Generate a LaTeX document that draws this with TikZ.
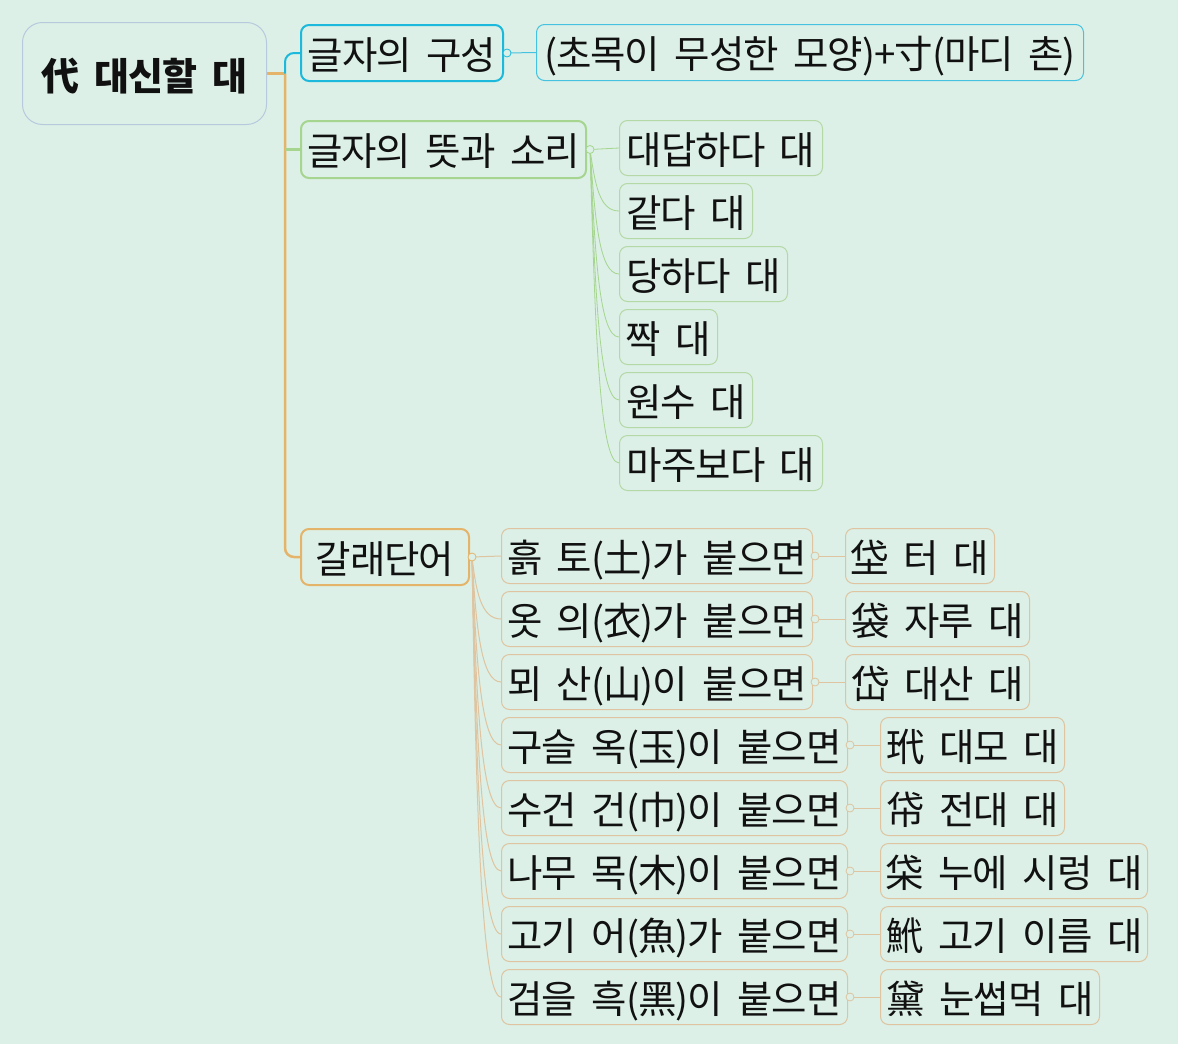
\documentclass[tikz,border=0pt]{standalone}
\usepackage{fontspec}
\setmainfont{Noto Sans CJK KR}[WordSpace=1.9,LetterSpace=-2.6]
\usetikzlibrary{calc,backgrounds}
\definecolor{bgc}{HTML}{DCF0E7}
\definecolor{txt}{HTML}{111111}
\definecolor{rootc}{HTML}{B7C9DC}
\definecolor{cyanT}{HTML}{1DB9DC}
\definecolor{cyanL}{HTML}{45C2E0}
\definecolor{greenT}{HTML}{A5D58E}
\definecolor{greenL}{HTML}{B4D8A6}
\definecolor{orangeT}{HTML}{E4B46A}
\definecolor{tanL}{HTML}{DEC4A0}
\begin{document}
\begin{tikzpicture}[x=1pt,y=1pt,
  box/.style={draw, rounded corners=8pt, inner sep=0pt, align=center, text=txt,
    font=\fontsize{38.5pt}{44pt}\selectfont, text height=34pt, text depth=2pt,
    anchor=north west, fill=bgc},
  wh/.style 2 args={minimum width=#1pt, minimum height=#2pt},
  thickbox/.style={box, line width=2pt, draw=#1},
  thinbox/.style={box, line width=1pt, draw=#1},
  dot/.style={circle, inner sep=0pt, minimum size=8pt, fill=bgc, line width=0.8pt, draw=#1},
  gline/.style={draw=greenT, line width=0.8pt},
  tline/.style={draw=tanL, line width=1pt}]
\begin{pgfonlayer}{background}
\fill[bgc] (0,0) rectangle (1178,-1044);
\end{pgfonlayer}
\useasboundingbox (0,0) rectangle (1178,-1044);

% root
\node[box, draw=rootc, line width=1pt, rounded corners=20pt, wh={244}{102},
  font=\fontsize{38pt}{44pt}\selectfont\bfseries, text height=36pt, text depth=2pt] (root) at (22,-22) {代 대신할 대};

% level 1
\node[thickbox=cyanT, wh={202}{56}] (g1) at (300,-24) {글자의 구성};
\node[thinbox=cyanL, wh={547}{56}] (g1a) at (536,-24) {(초목이 무성한 모양)+寸(마디 촌)};
\node[thickbox=greenT, wh={285}{57}] (g2) at (300,-120) {글자의 뜻과 소리};
\node[thickbox=orangeT, wh={168}{56}] (g3) at (300,-528) {갈래단어};

% meanings
\node[thinbox=greenL, wh={203}{55}] (m1) at (619,-120) {대답하다 대};
\node[thinbox=greenL, wh={133}{55}] (m2) at (619,-183) {같다 대};
\node[thinbox=greenL, wh={168}{55}] (m3) at (619,-246) {당하다 대};
\node[thinbox=greenL, wh={98}{55}]  (m4) at (619,-309) {짝 대};
\node[thinbox=greenL, wh={133}{55}] (m5) at (619,-372) {원수 대};
\node[thinbox=greenL, wh={203}{55}] (m6) at (619,-435) {마주보다 대};

% derived words
\node[thinbox=tanL, wh={311}{55}] (c1) at (501,-528) {흙 토(土)가 붙으면};
\node[thinbox=tanL, wh={311}{55}] (c2) at (501,-591) {옷 의(衣)가 붙으면};
\node[thinbox=tanL, wh={311}{55}] (c3) at (501,-654) {뫼 산(山)이 붙으면};
\node[thinbox=tanL, wh={346}{55}] (c4) at (501,-717) {구슬 옥(玉)이 붙으면};
\node[thinbox=tanL, wh={346}{55}] (c5) at (501,-780) {수건 건(巾)이 붙으면};
\node[thinbox=tanL, wh={346}{55}] (c6) at (501,-843) {나무 목(木)이 붙으면};
\node[thinbox=tanL, wh={346}{55}] (c7) at (501,-906) {고기 어(魚)가 붙으면};
\node[thinbox=tanL, wh={346}{55}] (c8) at (501,-969) {검을 흑(黑)이 붙으면};

\node[thinbox=tanL, wh={149}{55}] (d1) at (845,-528) {垈 터 대};
\node[thinbox=tanL, wh={184}{55}] (d2) at (845,-591) {袋 자루 대};
\node[thinbox=tanL, wh={184}{55}] (d3) at (845,-654) {岱 대산 대};
\node[thinbox=tanL, wh={184}{55}] (d4) at (880,-717) {玳 대모 대};
\node[thinbox=tanL, wh={184}{55}] (d5) at (880,-780) {帒 전대 대};
\node[thinbox=tanL, wh={267}{55}] (d6) at (880,-843) {柋 누에 시렁 대};
\node[thinbox=tanL, wh={267}{55}] (d7) at (880,-906) {鮘 고기 이름 대};
\node[thinbox=tanL, wh={219}{55}] (d8) at (880,-969) {黛 눈썹먹 대};

% dots
\node[dot=cyanT] (g1dot) at ($(g1.east)+(3,0)$) {};
\node[dot=greenT] (g2dot) at ($(g2.east)+(3,0)$) {};
\node[dot=orangeT] (g3dot) at ($(g3.east)+(2,0)$) {};
\foreach \i in {1,...,8}{
  \node[dot=tanL] (cdot\i) at ($(c\i.east)+(2,0)$) {};
}
\coordinate (hub) at ($(root.east)+(18,0)$);

\begin{pgfonlayer}{background}
% trunk
\draw[orangeT, line width=2.5pt] (root.east) -- (hub);
\draw[orangeT, line width=2.5pt, rounded corners=9pt] (hub) |- (g3.west);
\draw[cyanT, line width=2pt, rounded corners=9pt] (hub) |- (g1.west);
\draw[greenT, line width=2.5pt] (hub |- g2.west) -- (g2.west);
% level 2
\draw[cyanL, line width=1pt] (g1dot.center) -- (g1a.west);
\draw[gline] (g2dot.center) -- (m1.west);
\foreach \i in {2,...,6}{
  \draw[gline] let \p1=(g2dot.center), \p2=(m\i.west) in
    (\p1) .. controls ($(\p1)+(5pt,{0.55*(\y2-\y1)})$) and ($(\p2)+(-20pt,0pt)$) .. (\p2);
}
\draw[tline] (g3dot.center) -- (c1.west);
\foreach \i in {2,...,8}{
  \draw[tline] let \p1=(g3dot.center), \p2=(c\i.west) in
    (\p1) .. controls ($(\p1)+(4pt,{0.55*(\y2-\y1)})$) and ($(\p2)+(-20pt,0pt)$) .. (\p2);
}
\foreach \i in {1,...,8}{
  \draw[tline] (cdot\i.center) -- (d\i.west);
}
\end{pgfonlayer}
\end{tikzpicture}
\end{document}
